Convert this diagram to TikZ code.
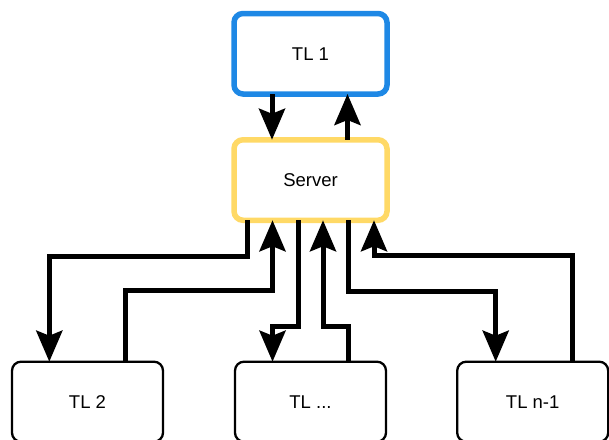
\documentclass[tikz,border=0pt]{standalone}
\usepackage{fontspec}
\setmainfont{Liberation Sans}
\usetikzlibrary{arrows.meta}
\definecolor{tlblue}{RGB}{30,136,229}
\definecolor{srvyellow}{RGB}{255,217,102}
\begin{document}
\begin{tikzpicture}[x=1pt,y=-1pt,
  box/.style={rectangle, rounded corners=9pt, outer sep=0pt, inner sep=0pt,
    font=\fontsize{18.5}{22}\selectfont, text=black},
  hub/.style={box, line width=5.5pt, minimum width=153pt, minimum height=80.5pt},
  leaf/.style={box, draw=black, line width=2.3pt, minimum width=151pt, minimum height=80pt},
  conn/.style={draw=black, line width=5pt,
    -{Stealth[length=31pt, width=26pt, inset=5pt]}}]
\useasboundingbox (0,0) rectangle (609,439);
\clip (0,0) rectangle (609,439);

% central server and the first TL above it
\node[hub, draw=tlblue] (tl1) at (310.5,53.75) {TL 1};
\node[hub, draw=srvyellow] (srv) at (310.5,180) {Server};

% TLs below the server
\node[leaf] (tl2) at (87.5,401.7) {TL 2};
\node[leaf] (tldots) at (310.5,401.7) {TL ...};
\node[leaf] (tln) at (532.7,401.7) {TL n-1};

% TL 1 <-> server
\draw[conn] ([xshift=-38.5pt]tl1.south) -- ([xshift=-38.5pt]srv.north);
\draw[conn] ([xshift=37pt]srv.north) -- ([xshift=37pt]tl1.south);

% TL 2 <-> server
\draw[conn] ([xshift=-63.5pt]srv.south) -- ++(0,36.5) -| ([xshift=-38.2pt]tl2.north);
\draw[conn] ([xshift=37.5pt]tl2.north) -- ++(0,-71) -| ([xshift=-38pt]srv.south);

% TL ... <-> server
\draw[conn] ([xshift=-12.5pt]srv.south) -- ++(0,106.5) -| ([xshift=-38pt]tldots.north);
\draw[conn] ([xshift=38pt]tldots.north) -- ++(0,-35.7) -| ([xshift=12.5pt]srv.south);

% TL n-1 <-> server
\draw[conn] ([xshift=38pt]srv.south) -- ++(0,71.2) -| ([xshift=-37pt]tln.north);
\draw[conn] ([xshift=39.5pt]tln.north) -- ++(0,-106) -| ([xshift=63.5pt]srv.south);
\end{tikzpicture}
\end{document}
